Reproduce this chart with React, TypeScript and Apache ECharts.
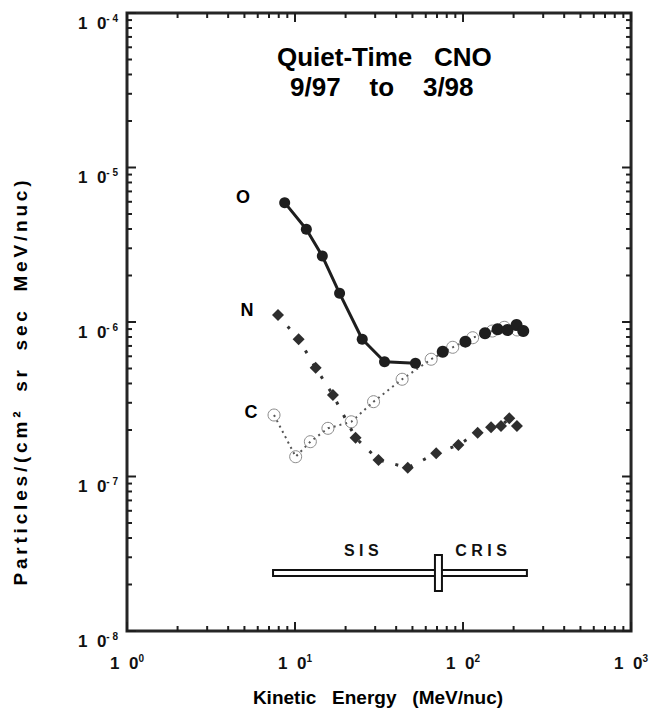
import React, { useEffect, useRef } from "react";
import * as echarts from "echarts";

// ---- Data ----
const oxygenSisEnergy = [8.68, 11.68, 14.54, 18.42, 25.13, 34.1, 52.1];
const oxygenSisFlux = [5.92e-6, 3.98e-6, 2.67e-6, 1.534e-6, 7.73e-7, 5.53e-7, 5.4e-7];
const oxygenCrisEnergy = [75.7, 103.3, 135.2, 160.6, 184.1, 208.3, 228.3];
const oxygenCrisFlux = [6.42e-7, 7.46e-7, 8.45e-7, 8.97e-7, 8.88e-7, 9.56e-7, 8.74e-7];
const nitrogenEnergy = [7.92, 10.51, 13.27, 16.81, 22.93, 31.41, 46.9, 69.2, 93.8, 122.2, 146.8, 168.3, 188.5, 209.4];
const nitrogenFlux = [1.11e-6, 7.73e-7, 5.06e-7, 3.37e-7, 1.782e-7, 1.279e-7, 1.14e-7, 1.413e-7, 1.6e-7, 1.921e-7, 2.08e-7, 2.12e-7, 2.38e-7, 2.12e-7];
const carbonEnergy = [7.5, 10.09, 12.34, 15.7, 21.62, 29.34, 43.4, 64.6, 86.8, 114.1, 149.4, 176.1, 210.2];
const carbonFlux = [2.5e-7, 1.343e-7, 1.68e-7, 2.05e-7, 2.26e-7, 3.05e-7, 4.26e-7, 5.74e-7, 6.86e-7, 7.91e-7, 8.74e-7, 9.24e-7, 8.88e-7];

// Instrument ranges bar (SIS | CRIS)
const instrumentRange = [7.4, 71.4, 240]; // start, split, end (MeV/nuc)
const instrumentLevel = 2.37e-8;
const instrumentLabels = ["S I S", "C R I S"];
const instrumentLabelEnergy = [24.8, 128];
const instrumentLabelLevel = 3.34e-8;

// Axis ranges / ticks
const xRange = [1, 1000];
const yRange = [1e-8, 1e-4];
const tickMantissas = [1, 2, 3, 4, 5, 6, 7, 8, 9];
const xDecades = [1, 10, 100];
const yDecades = [1e-8, 1e-7, 1e-6, 1e-5];

const FONT = '"Liberation Sans", Arial, Helvetica, sans-serif';
const INK = "#1e1e1e";

const xTickValues = xDecades.flatMap((d) => tickMantissas.map((m) => m * d)).concat([xRange[1]]);
const yTickValues = yDecades.flatMap((d) => tickMantissas.map((m) => m * d)).concat([yRange[1]]);

const isMajor = (v: number) => {
  const l = Math.log10(v);
  return Math.abs(l - Math.round(l)) < 1e-6;
};

const zip = (a: number[], b: number[]) => a.map((v, i) => [v, b[i]]);

// letter-spaced text (thin spaces between glyphs)
const spaced = (words: string[], wordGap: string) =>
  words.map((w) => Array.from(w).join("\u2009")).join("\u2009" + wordGap);

export default function App() {
  const ref = useRef<HTMLDivElement>(null);

  useEffect(() => {
    if (!ref.current) return;
    const chart = echarts.init(ref.current, undefined, { renderer: "svg" });

    const rich = {
      b: { fontSize: 17, fontWeight: "bold", fontFamily: FONT, color: "#111", lineHeight: 20 },
      s: { fontSize: 10, fontWeight: "bold", fontFamily: FONT, color: "#111", lineHeight: 10, verticalAlign: "top" },
    };

    const tickStyle = { stroke: INK, lineWidth: 2 };

    const option: any = {
      animation: false,
      backgroundColor: "#ffffff",
      grid: {
        left: 127,
        right: 19,
        top: 13,
        bottom: 82,
        show: true,
        borderColor: "#262626",
        borderWidth: 3,
        backgroundColor: "transparent",
      },
      xAxis: {
        type: "log",
        logBase: 10,
        min: xRange[0],
        max: xRange[1],
        axisLine: { show: false },
        axisTick: { show: false },
        splitLine: { show: false },
        minorSplitLine: { show: false },
        axisLabel: {
          margin: 22,
          verticalAlign: "top",
          formatter: (v: number) => `{b|1  0}{s|${Math.round(Math.log10(v))}}`,
          rich,
        },
      },
      yAxis: {
        type: "log",
        logBase: 10,
        min: yRange[0],
        max: yRange[1],
        axisLine: { show: false },
        axisTick: { show: false },
        splitLine: { show: false },
        axisLabel: {
          margin: 9,
          verticalAlign: "top",
          formatter: (v: number) => `{b|1  0}{s|- ${-Math.round(Math.log10(v))}}`,
          rich,
        },
      },
      series: [
        {
          type: "custom",
          name: "xticks",
          silent: true,
          clip: false,
          data: xTickValues.map((v) => [v, yRange[0]]),
          renderItem: (_p: any, api: any) => {
            const v = api.value(0);
            const b = api.coord([v, yRange[0]]);
            const t = api.coord([v, yRange[1]]);
            const len = isMajor(v) ? 9 : 5;
            return {
              type: "group",
              children: [
                { type: "line", shape: { x1: b[0], y1: b[1], x2: b[0], y2: b[1] - len }, style: tickStyle },
                { type: "line", shape: { x1: t[0], y1: t[1], x2: t[0], y2: t[1] + len }, style: tickStyle },
              ],
            };
          },
        },
        {
          type: "custom",
          name: "yticks",
          silent: true,
          clip: false,
          data: yTickValues.map((v) => [xRange[0], v]),
          renderItem: (_p: any, api: any) => {
            const v = api.value(1);
            const l = api.coord([xRange[0], v]);
            const r = api.coord([xRange[1], v]);
            const len = isMajor(v) ? 9 : 5;
            return {
              type: "group",
              children: [
                { type: "line", shape: { x1: l[0], y1: l[1], x2: l[0] + len, y2: l[1] }, style: tickStyle },
                { type: "line", shape: { x1: r[0], y1: r[1], x2: r[0] - len, y2: r[1] }, style: tickStyle },
              ],
            };
          },
        },
        {
          type: "custom",
          name: "instruments",
          silent: true,
          clip: false,
          data: [[instrumentRange[0], instrumentLevel, instrumentRange[1], instrumentRange[2]]],
          renderItem: (_p: any, api: any) => {
            const p0 = api.coord([api.value(0), api.value(1)]);
            const ps = api.coord([api.value(2), api.value(1)]);
            const p1 = api.coord([api.value(3), api.value(1)]);
            const l0 = api.coord([instrumentLabelEnergy[0], instrumentLabelLevel]);
            const l1 = api.coord([instrumentLabelEnergy[1], instrumentLabelLevel]);
            const txt = (p: number[], s: string) => ({
              type: "text",
              x: p[0],
              y: p[1],
              style: { text: s, font: `bold 16px ${FONT}`, fill: "#111", align: "center", verticalAlign: "middle" },
            });
            return {
              type: "group",
              children: [
                {
                  type: "rect",
                  shape: { x: p0[0], y: p0[1] - 3, width: p1[0] - p0[0], height: 6 },
                  style: { fill: "#fff", stroke: "#111", lineWidth: 2 },
                },
                {
                  type: "rect",
                  shape: { x: ps[0] - 3.5, y: ps[1] - 18, width: 7, height: 36 },
                  style: { fill: "#fff", stroke: "#111", lineWidth: 2 },
                },
                txt(l0, instrumentLabels[0]),
                txt(l1, instrumentLabels[1]),
              ],
            };
          },
        },
        {
          type: "line",
          name: "C",
          data: zip(carbonEnergy, carbonFlux),
          symbol: "circle",
          symbolSize: 12,
          itemStyle: { color: "transparent", borderColor: "#8a8a8a", borderWidth: 1 },
          lineStyle: { color: "#555", width: 2, type: [2, 4] },
          z: 3,
        },
        {
          type: "line",
          name: "N",
          data: zip(nitrogenEnergy, nitrogenFlux),
          symbol: "diamond",
          symbolSize: 12,
          itemStyle: { color: "#2e2e2e" },
          lineStyle: { color: "#333", width: 3, type: [3, 12] },
          z: 4,
        },
        {
          type: "line",
          name: "O (SIS)",
          data: zip(oxygenSisEnergy, oxygenSisFlux),
          symbol: "circle",
          symbolSize: 11,
          itemStyle: { color: INK },
          lineStyle: { color: INK, width: 3 },
          z: 5,
        },
        {
          type: "scatter",
          name: "O (CRIS)",
          data: zip(oxygenCrisEnergy, oxygenCrisFlux),
          symbol: "circle",
          symbolSize: 12,
          itemStyle: { color: INK, opacity: 1 },
          z: 5,
        },
      ],
      graphic: [
        {
          type: "text",
          x: 277,
          y: 57,
          style: { text: "Quiet-Time   CNO", font: `bold 26px ${FONT}`, fill: "#000", align: "left", verticalAlign: "middle" },
        },
        {
          type: "text",
          x: 290,
          y: 87,
          style: { text: "9/97    to    3/98", font: `bold 26px ${FONT}`, fill: "#000", align: "left", verticalAlign: "middle" },
        },
        {
          type: "text",
          x: 243,
          y: 197,
          style: { text: "O", font: `bold 18px ${FONT}`, fill: "#000", align: "center", verticalAlign: "middle" },
        },
        {
          type: "text",
          x: 247,
          y: 310,
          style: { text: "N", font: `bold 18px ${FONT}`, fill: "#000", align: "center", verticalAlign: "middle" },
        },
        {
          type: "text",
          x: 251,
          y: 412,
          style: { text: "C", font: `bold 18px ${FONT}`, fill: "#000", align: "center", verticalAlign: "middle" },
        },
        {
          type: "text",
          x: 378,
          y: 697,
          style: { text: "Kinetic   Energy   (MeV/nuc)", font: `bold 19px ${FONT}`, fill: "#000", align: "center", verticalAlign: "middle" },
        },
        {
          type: "text",
          x: 20,
          y: 383,
          rotation: Math.PI / 2,
          style: {
            text: spaced(["Particles/(cm²", "sr", "sec", "MeV/nuc)"], "   "),
            font: `bold 19px ${FONT}`,
            fill: "#000",
            align: "center",
            verticalAlign: "middle",
          },
        },
      ],
    };

    chart.setOption(option);
    return () => chart.dispose();
  }, []);

  return (
    <div
      ref={ref}
      style={{ position: "fixed", left: 0, top: 0, width: 651, height: 713, background: "#fff" }}
    />
  );
}
